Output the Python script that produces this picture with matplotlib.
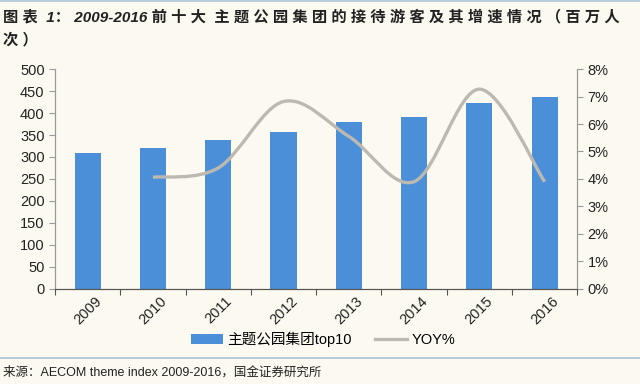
import matplotlib
matplotlib.use("Agg")
import matplotlib.pyplot as plt
from matplotlib.path import Path
from matplotlib.patches import PathPatch, Patch
from matplotlib.lines import Line2D
import numpy as np

years = ["2009", "2010", "2011", "2012", "2013", "2014", "2015", "2016"]
visitors = [309, 321, 338, 358, 380, 392, 422, 437]   # 百万人次
yoy_years = ["2010", "2011", "2012", "2013", "2014", "2015", "2016"]
yoy = [4.06, 4.4, 6.82, 5.55, 3.9, 7.27, 3.9]          # %

title1 = "图表 1：2009-2016 前十大 主题公园集团的接待游客及其增速情况（百万人"
title2 = "次）"
source = "来源：AECOM theme index 2009-2016，国金证券研究所"

bar_color = "#4a8fd8"
line_color = "#bdb9b1"
bg = "#fcfaf0"
mixed = ["Liberation Sans", "Noto Sans CJK SC"]


def spaced(s):
    # the report font sets cjk chars with loose tracking
    out = ""
    for c in s:
        out += c
        if ord(c) > 0x2e80:
            out += " "
    return out


fig = plt.figure(figsize=(6.4, 3.84), dpi=100, facecolor=bg)
ax = fig.add_axes([0.086, 0.248, 0.816, 0.572], facecolor=bg)
ax2 = ax.twinx()

x = np.arange(len(years))
ax.bar(x, visitors, width=0.4, color=bar_color, zorder=2)
ax.set_xlim(-0.5, len(years) - 0.5)
ax.set_ylim(0, 500)
ax.set_yticks(range(0, 501, 50))

# smoothed YOY line (catmull-rom -> bezier, like excel "smooth line")
xi = np.array([years.index(y) for y in yoy_years], dtype=float)
pts = np.column_stack([xi, yoy])
ext = np.vstack([pts[0], pts, pts[-1]])
verts = [tuple(pts[0])]
codes = [Path.MOVETO]
for i in range(len(pts) - 1):
    p0, p1, p2, p3 = ext[i], ext[i + 1], ext[i + 2], ext[i + 3]
    c1 = p1 + (p2 - p0) / 6
    c2 = p2 - (p3 - p1) / 6
    verts += [tuple(c1), tuple(c2), tuple(p2)]
    codes += [Path.CURVE4] * 3
ax2.add_patch(PathPatch(Path(verts, codes), fill=False, edgecolor=line_color,
                        lw=2.4, capstyle="butt", zorder=3))
ax2.set_ylim(0, 8)
ax2.set_yticks(range(0, 9))
ax2.set_yticklabels([f"{v}%" for v in range(0, 9)])

# x ticks at category boundaries, labels at centers
ax.set_xticks(np.arange(-0.5, len(years), 1.0))
ax.set_xticklabels([])
ax.set_xticks(x, minor=True)
ax.set_xticklabels(years, minor=True, rotation=45, fontsize=10.5,
                   family="Liberation Sans", color="#222222")
ax.tick_params(axis="x", which="minor", length=0, pad=4)
ax.tick_params(axis="x", which="major", length=4, color="#555555", direction="out")
ax.tick_params(axis="y", length=4, color="#999999", labelsize=10.5, labelcolor="#222222")
ax2.tick_params(axis="y", length=4, color="#999999", labelsize=10.5, labelcolor="#222222")
for t in ax.get_yticklabels() + ax2.get_yticklabels():
    t.set_family("Liberation Sans")

for a in (ax, ax2):
    a.spines["top"].set_visible(False)
    a.spines["left"].set_color("#999999")
    a.spines["right"].set_color("#999999")
    a.spines["bottom"].set_color("#555555")

handles = [Patch(facecolor=bar_color, edgecolor="none"),
           Line2D([0], [0], color=line_color, lw=2.4)]
fig.legend(handles, ["主题公园集团top10", "YOY%"], loc="center",
           bbox_to_anchor=(0.505, 0.117), ncol=2, frameon=False,
           handlelength=2.2, handleheight=0.7, columnspacing=1.6,
           handletextpad=0.3, prop={"family": mixed, "size": 10.5})

# title
fig.text(0.005, 0.955, spaced(title1), family=mixed, style="italic", weight="bold",
         fontsize=11, color="#222222", va="center", ha="left")
fig.text(0.005, 0.895, spaced(title2), family=mixed, style="italic", weight="bold",
         fontsize=11, color="#222222", va="center", ha="left")

fig.add_artist(Line2D([0, 1], [0.997, 0.997], color="#a9c4d6", lw=1.2))
fig.add_artist(Line2D([0, 1], [0.068, 0.068], color="#a9c4d6", lw=1.2))

fig.text(0.005, 0.03, source, family=mixed, fontsize=9, color="#222222",
         va="center", ha="left")

fig.savefig("out.png", dpi=100, facecolor=bg)
